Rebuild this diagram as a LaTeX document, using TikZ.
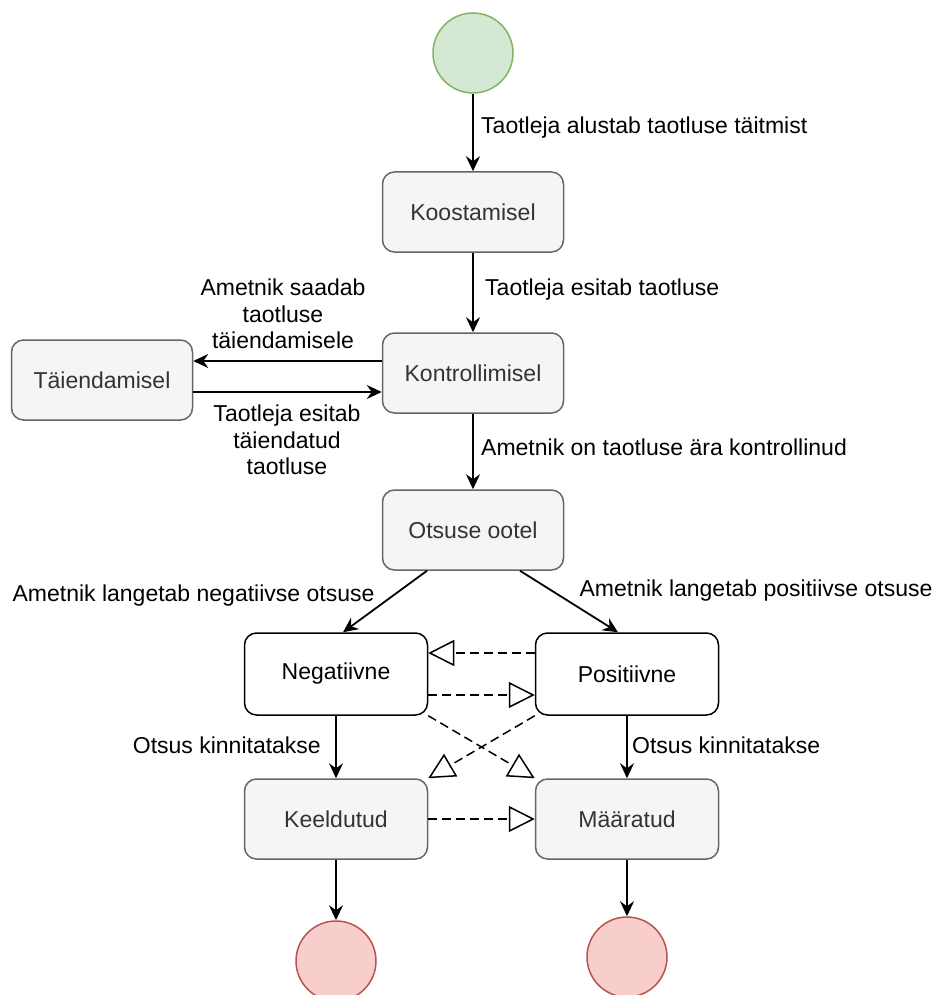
\documentclass[tikz,border=0pt]{standalone}
\usepackage{fontspec}
\setmainfont{Liberation Sans}
\usetikzlibrary{arrows.meta,calc}
\definecolor{startfill}{HTML}{D5E8D4}
\definecolor{startline}{HTML}{82B366}
\definecolor{endfill}{HTML}{F8CECC}
\definecolor{endline}{HTML}{B85450}
\definecolor{boxfill}{HTML}{F5F5F5}
\definecolor{boxline}{HTML}{666666}
\definecolor{boxtext}{HTML}{333333}

\begin{document}
\begin{tikzpicture}[x=1pt,y=-1pt,
  every node/.style={font=\fontsize{23}{26.5}\selectfont},
  state/.style={rounded corners=12pt, minimum width=181pt, minimum height=80pt,
    draw=boxline, fill=boxfill, text=boxtext, line width=1.5pt, inner sep=0pt},
  decision/.style={state, draw=black, fill=white, text=black,
    minimum width=183pt, minimum height=82pt},
  startnode/.style={circle, minimum size=80pt, draw=startline, fill=startfill,
    line width=1.5pt, inner sep=0pt},
  endnode/.style={circle, minimum size=80pt, draw=endline, fill=endfill,
    line width=1.5pt, inner sep=0pt},
  flow/.style={-{Stealth[length=15pt,width=14pt,inset=5pt]}, line width=1.8pt},
  implies/.style={-{Triangle[open,length=26pt,width=26pt]}, line width=1.5pt,
    dash pattern=on 9pt off 5pt},
  lbl/.style={inner sep=0pt}
]
\useasboundingbox (0,0) rectangle (937,995);

% states
\node[startnode] (start) at (473,53) {};
\node[state] (koost) at (473,212) {Koostamisel};
\node[state] (kontr) at (473,373) {Kontrollimisel};
\node[state] (taien) at (102,380) {Täiendamisel};
\node[state] (ootel) at (473,530) {Otsuse ootel};
\node[decision] (neg) at (336,674) {Negatiivne};
\node[decision] (pos) at (627,674) {Positiivne};
\node[state, minimum width=183pt] (keel) at (336,819) {Keeldutud};
\node[state, minimum width=183pt] (maar) at (627,819) {Määratud};
\node[endnode] (endneg) at (336,961) {};
\node[endnode] (endpos) at (627,957) {};

% main flow
\draw[flow] (start) -- (koost);
\draw[flow] (koost) -- (kontr);
\draw[flow] (kontr) -- (ootel);

% round trip for completing the application
\coordinate (sendout) at ([yshift=12pt]kontr.west);
\coordinate (sendback) at ([yshift=-19pt]kontr.west);
\draw[flow] (sendout) -- (sendout -| taien.east);
\draw[flow] (sendback -| taien.east) -- (sendback);

% decision
\draw[flow] ([xshift=-46pt]ootel.south) -- ([xshift=7pt]neg.north);
\draw[flow] ([xshift=47pt]ootel.south) -- ([xshift=-9pt]pos.north);
\draw[flow] (neg) -- (keel);
\draw[flow] (pos) -- (maar);
\draw[flow] (keel) -- (endneg);
\draw[flow] (maar) -- (endpos);

% implications between decision states
\draw[implies] ([yshift=21pt]pos.west) -- ([yshift=21pt]neg.east);
\draw[implies] ([yshift=-21pt]neg.east) -- ([yshift=-21pt]pos.west);
\draw[implies] (neg.south east) -- (maar.north west);
\draw[implies] (pos.south west) -- (keel.north east);
\draw[implies] (keel) -- (maar);

% edge labels
\node[lbl, anchor=west] (l1) at (481,128) {Taotleja alustab taotluse täitmist};
\node[lbl, anchor=west] (l2) at (485,290) {Taotleja esitab taotluse};
\node[lbl, align=center] (l3) at (283,314) {Ametnik saadab\\taotluse\\täiendamisele};
\node[lbl, align=center] (l4) at (287,440) {Taotleja esitab\\täiendatud\\taotluse};
\node[lbl, anchor=west] (l5) at (481,447) {Ametnik on taotluse ära kontrollinud};
\node[lbl] (l6) at (193.5,596) {Ametnik langetab negatiivse otsuse};
\node[lbl] (l7) at (756,591) {Ametnik langetab positiivse otsuse};
\node[lbl, anchor=east] (l8) at (321,745) {Otsus kinnitatakse};
\node[lbl, anchor=west] (l9) at (632,745) {Otsus kinnitatakse};
\end{tikzpicture}
\end{document}
